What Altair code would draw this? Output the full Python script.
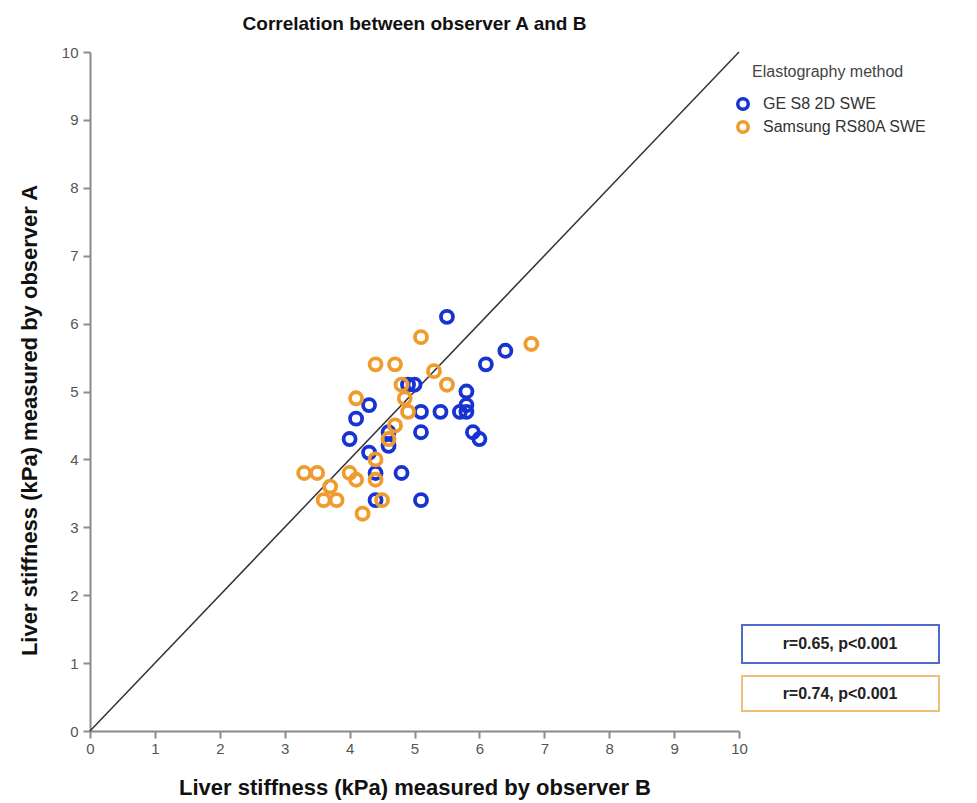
import altair as alt
import pandas as pd

# ---- data ----
ge_x = [5.5, 6.4, 6.1, 5.8, 5.7, 5.8, 5.8, 5.4, 5.1, 5.0, 4.9, 4.3, 4.1, 4.0, 5.1, 5.9, 6.0, 4.3, 4.6, 4.6, 4.4, 4.8, 4.4, 5.1]
ge_y = [6.1, 5.6, 5.4, 5.0, 4.7, 4.7, 4.8, 4.7, 4.7, 5.1, 5.1, 4.8, 4.6, 4.3, 4.4, 4.4, 4.3, 4.1, 4.2, 4.4, 3.8, 3.8, 3.4, 3.4]
sam_x = [5.1, 6.8, 4.4, 4.7, 5.3, 5.5, 4.8, 4.1, 4.9, 4.85, 4.7, 4.6, 4.4, 4.4, 4.5, 4.2, 3.3, 3.5, 3.7, 3.6, 3.8, 4.0, 4.1]
sam_y = [5.8, 5.7, 5.4, 5.4, 5.3, 5.1, 5.1, 4.9, 4.7, 4.9, 4.5, 4.3, 4.0, 3.7, 3.4, 3.2, 3.8, 3.8, 3.6, 3.4, 3.4, 3.8, 3.7]
methods = ["GE S8 2D SWE", "Samsung RS80A SWE"]
colors = ["#1733d2", "#ee9c2e"]
stats = ["r=0.65, p<0.001", "r=0.74, p<0.001"]
box_colors = ["#5069cc", "#efc07a"]
ticks = list(range(0, 11))
diag_b = [0, 10]
diag_a = [0, 10]

FONT = "Liberation Sans"

df = pd.DataFrame({
    "B": ge_x + sam_x,
    "A": ge_y + sam_y,
    "method": [methods[0]] * len(ge_x) + [methods[1]] * len(sam_x),
})
diag = pd.DataFrame({"B": diag_b, "A": diag_a})

xscale = alt.Scale(domain=[0, 10], nice=False, zero=True)
yscale = alt.Scale(domain=[0, 10], nice=False, zero=True)

xaxis = alt.Axis(values=ticks, format="d", title="Liver stiffness (kPa) measured by observer B",
                 grid=False, titlePadding=21, labelFlush=False)
yaxis = alt.Axis(values=ticks, format="d", title="Liver stiffness (kPa) measured by observer A",
                 grid=False, titlePadding=20, labelFlush=False, labelPadding=5, titleY=368)

line = alt.Chart(diag).mark_line(color="#333333", strokeWidth=1.5, clip=False).encode(
    x=alt.X("B:Q", scale=xscale, axis=xaxis),
    y=alt.Y("A:Q", scale=yscale, axis=yaxis),
)

points = alt.Chart(df).mark_point(filled=False, shape="circle", size=145, strokeWidth=3.8, opacity=1).encode(
    x=alt.X("B:Q", scale=xscale),
    y=alt.Y("A:Q", scale=yscale),
    color=alt.Color("method:N", scale=alt.Scale(domain=methods, range=colors),
                    legend=alt.Legend(title=None, orient="none", legendX=645, legendY=44,
                                      labelFontSize=16, labelFont=FONT, labelColor="#333333",
                                      labelLimit=400,
                                      symbolSize=110, symbolStrokeWidth=3.5, symbolType="circle",
                                      rowPadding=-3, labelOffset=12, padding=0)),
    order=alt.Order("method:N"),
)

legend_title = alt.Chart(pd.DataFrame({"t": ["Elastography method"]})).mark_text(
    align="left", baseline="middle", fontSize=16, font=FONT, color="#444444"
).encode(text="t:N", x=alt.value(662), y=alt.value(20))

def stat_box(i, y0, y1):
    d = pd.DataFrame({"s": [stats[i]]})
    box = alt.Chart(d).mark_rect(fill="white", stroke=box_colors[i], strokeWidth=2).encode(
        x=alt.value(652), x2=alt.value(849), y=alt.value(y0), y2=alt.value(y1))
    txt = alt.Chart(d).mark_text(fontSize=16, fontWeight="bold", font=FONT, color="#222222",
                                 baseline="middle", align="center").encode(
        text="s:N", x=alt.value(750), y=alt.value((y0 + y1) / 2))
    return box + txt

chart = alt.layer(
    line, points, legend_title, stat_box(0, 573, 611), stat_box(1, 624, 659)
).properties(
    width=649, height=679,
    background="white",
    title=alt.Title("Correlation between observer A and B", fontSize=19, font=FONT,
                    fontWeight="bold", color="#111111", offset=11, anchor="middle"),
    autosize=alt.AutoSizeParams(type="none"),
    padding={"left": 90, "top": 52, "right": 238, "bottom": 72},
).configure_view(stroke=None).configure_axis(
    domainColor="#8a8a8a", domainWidth=2, tickColor="#8a8a8a", tickWidth=2, tickSize=7,
    labelColor="#555555", labelFontSize=15, labelFont=FONT, labelPadding=3,
    titleFont=FONT, titleFontSize=22, titleFontWeight="bold", titleColor="#111111",
)

chart.save("out.html", embed_options={"renderer": "svg", "actions": False})
